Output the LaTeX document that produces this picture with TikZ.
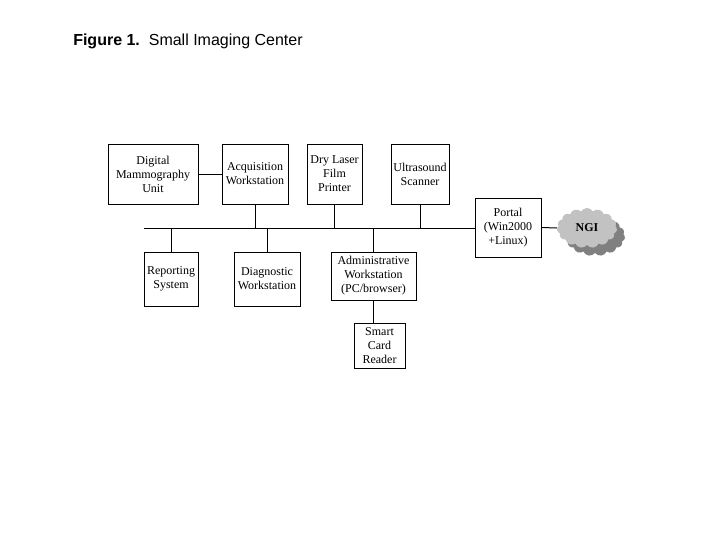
\documentclass[tikz,border=0pt]{standalone}
\usepackage{fontspec}
\setmainfont{Liberation Serif}
\newfontfamily\titlefont{Liberation Sans}
\usetikzlibrary{shapes.symbols}
\begin{document}
\begin{tikzpicture}[x=0.75pt,y=-0.75pt,
  box/.style={draw, line width=0.75pt, inner sep=0pt, align=center, anchor=center, font=\fontsize{9}{10.5}\selectfont},
  wire/.style={line width=0.75pt},
  cloudshape/.style={cloud, cloud puffs=15, cloud puff arc=120, aspect=1.5, minimum width=45pt, minimum height=30pt, inner sep=0pt}]
\useasboundingbox (0,0) rectangle (720,540);
\fill[white] (0,0) rectangle (720,540);
\node[anchor=base west, inner sep=0pt, font=\titlefont\fontsize{12}{14}\selectfont] (title) at (73,45) {\textbf{Figure 1.}\ \ Small Imaging Center};
% top row
\node[box, minimum width=67.5pt, minimum height=45pt] (dmu) at (153,174) {Digital\\Mammography\\Unit};
\node[box, minimum width=49.5pt, minimum height=45pt] (aw) at (255,174) {Acquisition\\Workstation};
\node[box, minimum width=41.25pt, minimum height=45pt] (dl) at (334.5,174) {Dry Laser\\Film\\Printer};
\node[box, minimum width=43.5pt, minimum height=45pt] (us) at (420,174) {Ultrasound\\Scanner};
\node[box, minimum width=49.5pt, minimum height=44.25pt] (portal) at (508,227.5) {Portal\\(Win2000\\+Linux)};
% bottom row
\node[box, minimum width=40.5pt, minimum height=40.5pt] (rep) at (171,279) {Reporting\\System};
\node[box, minimum width=49.5pt, minimum height=40.5pt] (diag) at (267,279) {Diagnostic\\Workstation};
\node[box, minimum width=63.75pt, minimum height=36pt] (adm) at (373.5,276) {Administrative\\Workstation\\(PC/browser)};
\node[box, minimum width=38.25pt, minimum height=33.75pt] (sc) at (379.5,345.5) {Smart\\Card\\Reader};
% cloud
\node[cloudshape, fill=black!50] (ngish) at (595,236) {};
\node[cloudshape, fill=black!24, font=\bfseries\fontsize{9}{10.5}\selectfont] (ngi) at (587,228) {NGI};
% connectors
\coordinate (busL) at (144,228);
\draw[wire] (dmu.east) -- (aw.west);
\draw[wire] (busL) -- (busL -| portal.west);
\draw[wire] (aw.south) -- (aw.south |- busL);
\draw[wire] (dl.south) -- (dl.south |- busL);
\draw[wire] (us.south) -- (us.south |- busL);
\draw[wire] (rep.north) -- (rep.north |- busL);
\draw[wire] (diag.north) -- (diag.north |- busL);
\draw[wire] (adm.north) -- (adm.north |- busL);
\draw[wire] (adm.south) -- (adm.south |- sc.north);
\draw[wire] (portal.east) -- (ngi.west);
\end{tikzpicture}
\end{document}
